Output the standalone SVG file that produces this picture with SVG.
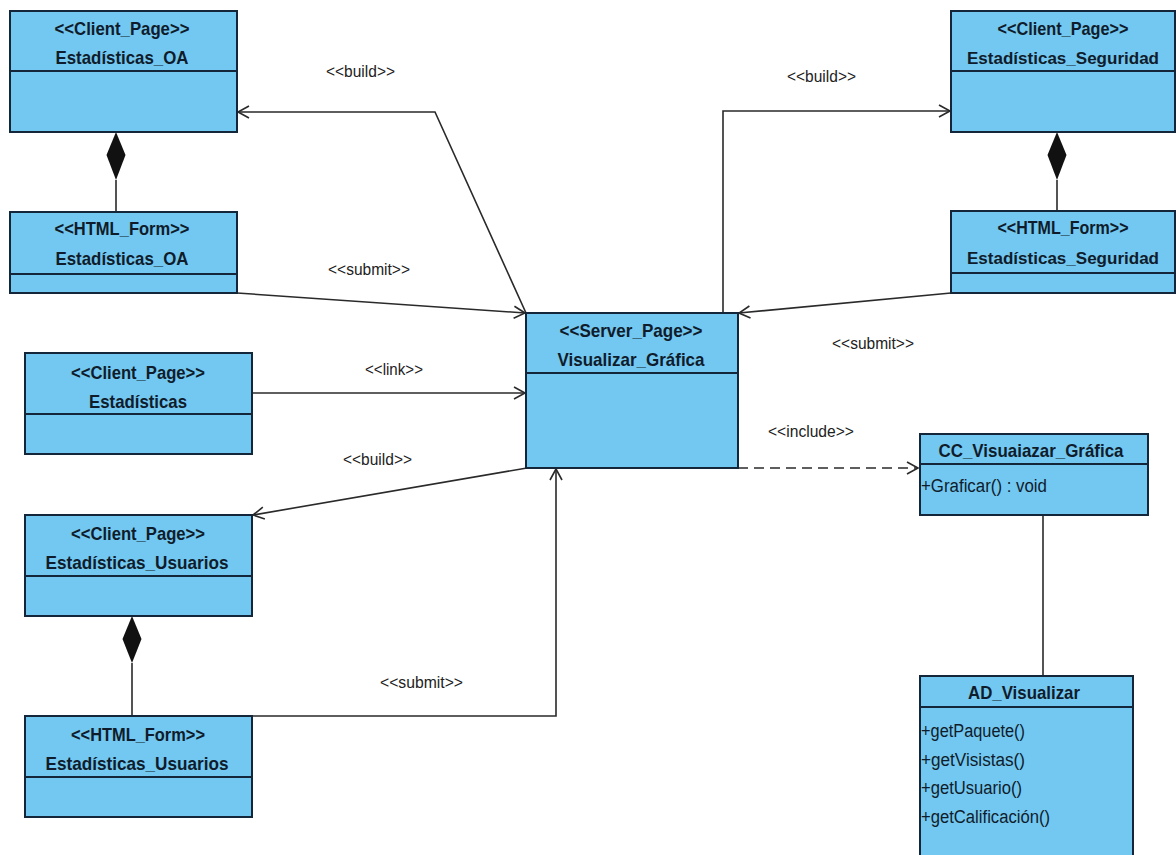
<svg xmlns="http://www.w3.org/2000/svg" width="1176" height="855" viewBox="0 0 1176 855">
  <style>
    .box { fill: #73c8f1; stroke: #14263a; stroke-width: 2; }
    .div { stroke: #14263a; stroke-width: 2; }
    .t { font-family: "Liberation Sans Narrow", "Liberation Sans", Arial, sans-serif; font-weight: bold; font-size: 19px; fill: #0f1c2b; text-anchor: middle; }
    .t.s { font-size: 17px; }
    .m { font-family: "Liberation Sans Narrow", "Liberation Sans", Arial, sans-serif; font-size: 18px; fill: #0f1c2b; }
    .lbl { font-family: "Liberation Sans Narrow", "Liberation Sans", Arial, sans-serif; font-size: 17px; fill: #222; }
    .edge { fill: none; stroke: #2a2a2a; stroke-width: 1.6; }
    .dash { stroke-dasharray: 10 6; }
  </style>
  <defs>
    <marker id="open" markerUnits="userSpaceOnUse" markerWidth="16" markerHeight="16" refX="13" refY="8" orient="auto">
      <path d="M2,2 L13,8 L2,14" fill="none" stroke="#2a2a2a" stroke-width="1.6" stroke-dasharray="none"/>
    </marker>
  </defs>
  <rect width="1176" height="855" fill="#ffffff"/>

  <!-- connectors -->
  <g id="connectors">
    <polyline class="edge" points="526,313 435,112 238,112" marker-end="url(#open)"/>
    <polyline class="edge" points="237,293 525,313" marker-end="url(#open)"/>
    <polyline class="edge" points="723,313 723,111 950,111" marker-end="url(#open)"/>
    <polyline class="edge" points="951,293 739,313" marker-end="url(#open)"/>
    <polyline class="edge" points="252,393 525,393" marker-end="url(#open)"/>
    <polyline class="edge" points="527,468 253,515" marker-end="url(#open)"/>
    <polyline class="edge" points="252,716 556,716 556,469" marker-end="url(#open)"/>
    <polyline class="edge dash" points="738,468 918,468" marker-end="url(#open)"/>
    <line class="edge" x1="1043" y1="515" x2="1043" y2="676"/>
    <!-- composition links -->
    <line class="edge" x1="116" y1="180" x2="116" y2="212"/>
    <polygon points="116,132 125.5,155 116,180 106.5,155" fill="#111"/>
    <line class="edge" x1="1057" y1="180" x2="1057" y2="211"/>
    <polygon points="1057,132 1066.5,155 1057,180 1047.5,155" fill="#111"/>
    <line class="edge" x1="132" y1="663" x2="132" y2="716"/>
    <polygon points="132,616 141.5,639 132,663 122.5,639" fill="#111"/>
    <!-- connector labels -->
    <text class="lbl" x="326" y="77" textLength="69" lengthAdjust="spacingAndGlyphs">&lt;&lt;build&gt;&gt;</text>
    <text class="lbl" x="328" y="275" textLength="82" lengthAdjust="spacingAndGlyphs">&lt;&lt;submit&gt;&gt;</text>
    <text class="lbl" x="365" y="375" textLength="58" lengthAdjust="spacingAndGlyphs">&lt;&lt;link&gt;&gt;</text>
    <text class="lbl" x="343" y="465" textLength="69" lengthAdjust="spacingAndGlyphs">&lt;&lt;build&gt;&gt;</text>
    <text class="lbl" x="380" y="688" textLength="83" lengthAdjust="spacingAndGlyphs">&lt;&lt;submit&gt;&gt;</text>
    <text class="lbl" x="787" y="82" textLength="69" lengthAdjust="spacingAndGlyphs">&lt;&lt;build&gt;&gt;</text>
    <text class="lbl" x="832" y="349" textLength="82" lengthAdjust="spacingAndGlyphs">&lt;&lt;submit&gt;&gt;</text>
    <text class="lbl" x="768" y="437" textLength="86" lengthAdjust="spacingAndGlyphs">&lt;&lt;include&gt;&gt;</text>
  </g>

  <!-- Client page: Estadísticas_OA -->
  <g id="cp-oa">
    <rect class="box" x="10" y="11" width="227" height="121"/>
    <line class="div" x1="10" y1="71" x2="237" y2="71"/>
    <text class="t" x="122" y="35" textLength="135" lengthAdjust="spacingAndGlyphs">&lt;&lt;Client_Page&gt;&gt;</text>
    <text class="t" x="122" y="64" textLength="133" lengthAdjust="spacingAndGlyphs">Estadísticas_OA</text>
  </g>

  <!-- HTML form: Estadísticas_OA -->
  <g id="hf-oa">
    <rect class="box" x="10" y="212" width="227" height="81"/>
    <line class="div" x1="10" y1="274" x2="237" y2="274"/>
    <text class="t" x="122" y="235" textLength="135" lengthAdjust="spacingAndGlyphs">&lt;&lt;HTML_Form&gt;&gt;</text>
    <text class="t" x="122" y="265" textLength="133" lengthAdjust="spacingAndGlyphs">Estadísticas_OA</text>
  </g>

  <!-- Client page: Estadísticas_Seguridad -->
  <g id="cp-seg">
    <rect class="box" x="951" y="11" width="224" height="121"/>
    <line class="div" x1="951" y1="71" x2="1175" y2="71"/>
    <text class="t" x="1063" y="35" textLength="131" lengthAdjust="spacingAndGlyphs">&lt;&lt;Client_Page&gt;&gt;</text>
    <text class="t s" x="1063" y="64" textLength="192" lengthAdjust="spacingAndGlyphs">Estadísticas_Seguridad</text>
  </g>

  <!-- HTML form: Estadísticas_Seguridad -->
  <g id="hf-seg">
    <rect class="box" x="951" y="211" width="224" height="82"/>
    <line class="div" x1="951" y1="273" x2="1175" y2="273"/>
    <text class="t" x="1063" y="234" textLength="131" lengthAdjust="spacingAndGlyphs">&lt;&lt;HTML_Form&gt;&gt;</text>
    <text class="t s" x="1063" y="264" textLength="192" lengthAdjust="spacingAndGlyphs">Estadísticas_Seguridad</text>
  </g>

  <!-- Server page: Visualizar_Gráfica -->
  <g id="sp-visualizar">
    <rect class="box" x="526" y="313" width="212" height="155"/>
    <line class="div" x1="526" y1="373" x2="738" y2="373"/>
    <text class="t" x="631" y="337" textLength="143" lengthAdjust="spacingAndGlyphs">&lt;&lt;Server_Page&gt;&gt;</text>
    <text class="t" x="631" y="366" textLength="147" lengthAdjust="spacingAndGlyphs">Visualizar_Gráfica</text>
  </g>

  <!-- Client page: Estadísticas -->
  <g id="cp-est">
    <rect class="box" x="25" y="353" width="227" height="101"/>
    <line class="div" x1="25" y1="414" x2="252" y2="414"/>
    <text class="t" x="138" y="379" textLength="134" lengthAdjust="spacingAndGlyphs">&lt;&lt;Client_Page&gt;&gt;</text>
    <text class="t" x="138" y="408" textLength="98" lengthAdjust="spacingAndGlyphs">Estadísticas</text>
  </g>

  <!-- Client page: Estadísticas_Usuarios -->
  <g id="cp-usu">
    <rect class="box" x="25" y="515" width="227" height="101"/>
    <line class="div" x1="25" y1="576" x2="252" y2="576"/>
    <text class="t" x="138" y="540" textLength="134" lengthAdjust="spacingAndGlyphs">&lt;&lt;Client_Page&gt;&gt;</text>
    <text class="t" x="137" y="569" textLength="183" lengthAdjust="spacingAndGlyphs">Estadísticas_Usuarios</text>
  </g>

  <!-- HTML form: Estadísticas_Usuarios -->
  <g id="hf-usu">
    <rect class="box" x="25" y="716" width="227" height="101"/>
    <line class="div" x1="25" y1="777" x2="252" y2="777"/>
    <text class="t" x="138" y="741" textLength="134" lengthAdjust="spacingAndGlyphs">&lt;&lt;HTML_Form&gt;&gt;</text>
    <text class="t" x="137" y="770" textLength="183" lengthAdjust="spacingAndGlyphs">Estadísticas_Usuarios</text>
  </g>

  <!-- Class: CC_Visuaiazar_Gráfica -->
  <g id="cc-visualizar">
    <rect class="box" x="920" y="434" width="228" height="81"/>
    <line class="div" x1="920" y1="464" x2="1148" y2="464"/>
    <text class="t" x="1031" y="457" textLength="185" lengthAdjust="spacingAndGlyphs">CC_Visuaiazar_Gráfica</text>
    <text class="m" x="921" y="492" textLength="126" lengthAdjust="spacingAndGlyphs">+Graficar() : void</text>
  </g>

  <!-- Class: AD_Visualizar -->
  <g id="ad-visualizar">
    <rect class="box" x="920" y="676" width="213" height="190"/>
    <line class="div" x1="920" y1="707" x2="1133" y2="707"/>
    <text class="t" x="1024" y="699" textLength="112" lengthAdjust="spacingAndGlyphs">AD_Visualizar</text>
    <text class="m" x="921" y="737" textLength="104" lengthAdjust="spacingAndGlyphs">+getPaquete()</text>
    <text class="m" x="921" y="766" textLength="104" lengthAdjust="spacingAndGlyphs">+getVisistas()</text>
    <text class="m" x="921" y="794" textLength="101" lengthAdjust="spacingAndGlyphs">+getUsuario()</text>
    <text class="m" x="921" y="823" textLength="129" lengthAdjust="spacingAndGlyphs">+getCalificación()</text>
  </g>
</svg>
